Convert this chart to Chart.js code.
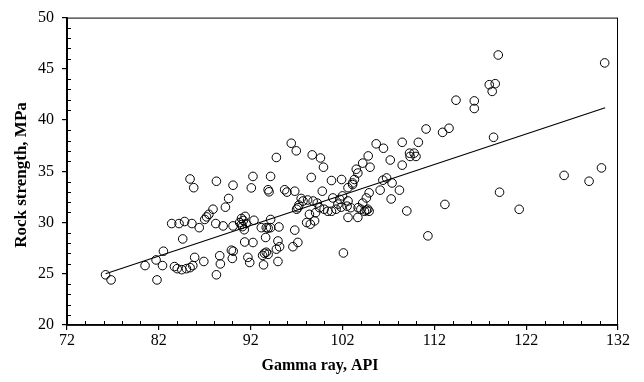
<!DOCTYPE html>
<html>
<head>
<meta charset="utf-8">
<script src="https://cdn.jsdelivr.net/npm/chart.js@4"></script>
<style>
  body { margin: 0; background: #fff; }
  #wrap { width: 644px; height: 382px; }
</style>
</head>
<body>
<div id="wrap"><canvas id="myChart"></canvas></div>
<script>
// gamma ray (API) vs rock strength (MPa)
const gammaRay = [
  76.2, 76.8, 80.5, 81.7, 81.8, 82.4, 82.5, 83.4, 83.7, 84.0,
  84.2, 84.6, 84.8, 84.5, 85.0, 85.4, 85.7, 85.9, 85.4, 85.8,
  85.6, 86.4, 86.9,
  87.0, 87.2, 87.45, 87.9, 88.2, 88.27, 88.63, 88.7, 88.27, 89.0,
  89.25, 89.6, 89.9, 90.1, 90.0, 90.08, 90.08, 90.8, 91.0, 91.1,
  91.2, 91.3, 91.4, 91.0, 91.5, 91.35, 92.25, 91.7, 91.9, 92.25,
  92.07, 92.36, 93.16, 93.7, 93.9, 94.17, 94.17, 93.63, 93.3, 93.5,
  93.7, 93.9, 93.4, 94.17, 93.9, 94.0, 94.8, 94.97, 94.97, 94.8,
  95.15, 95.08, 95.7, 95.95, 96.42, 96.97, 96.8, 96.8, 96.6, 97.14,
  97.0,
  97.14, 97.25, 97.7, 98.2, 98.8, 99.25, 98.4, 99.07, 98.1, 98.5,
  98.96, 98.7, 99.6, 99.93, 98.6, 100.8, 101.9, 99.8, 102.1, 97.5,
  99.5, 100.0, 100.4, 100.8, 101.3, 101.86, 102.5, 102.9, 100.95, 101.7,
  101.5, 102.6, 103.1, 102.0, 102.6, 102.6, 103.67,
  103.5, 103.67, 103.3, 103.1, 104.2, 104.8, 105.0, 104.9, 104.6, 104.2,
  103.7, 104.0, 104.4, 104.6, 104.75, 104.9, 105.67, 106.46, 107.2, 106.4,
  106.8, 107.4, 106.1, 107.3, 108.2, 109.0, 108.5, 110.26, 109.3, 109.8,
  109.36, 110.0, 108.5, 111.3, 111.1,
  112.9, 113.6, 114.36, 116.35, 116.35, 117.98, 118.63, 118.3, 118.96, 118.45,
  113.15, 119.1, 121.24, 126.13, 128.85, 130.2, 130.55
];
const rockStrength = [
  24.9, 24.4, 25.8, 26.35, 24.4, 25.8, 27.2, 29.9, 25.7, 25.5,
  29.9, 28.4, 30.1, 25.4, 25.5, 25.6, 25.8, 26.6, 34.25, 33.4,
  29.9, 29.5, 26.2,
  30.3, 30.55, 30.8, 31.3, 29.9, 34.03, 26.76, 25.96, 24.9, 29.67,
  31.5, 32.35, 27.3, 27.2, 26.5, 33.64, 29.67, 30.0, 30.4, 29.6,
  30.2, 29.3, 30.6, 29.8, 29.9, 28.1, 28.05, 26.6, 26.1, 34.5,
  33.38, 30.22, 29.5, 29.5, 29.45, 29.5, 30.3, 28.54, 26.8, 27.0,
  27.1, 26.9, 25.87, 34.5, 33.2, 33.0, 36.35, 28.2, 26.2, 27.4,
  27.64, 29.57, 33.2, 32.97, 37.74, 37.0, 33.06, 29.26, 27.64, 28.06,
  31.3,
  31.45, 31.7, 32.1, 32.2, 32.1, 31.9, 30.8, 30.96, 30.0, 29.84,
  30.16, 36.6, 36.3, 35.4, 34.4, 34.1, 34.2, 33.06, 27.03, 32.35,
  31.45, 31.3, 31.1, 31.1, 31.3, 31.5, 31.6, 31.45, 32.4, 32.26,
  31.8, 33.4, 33.7, 32.6, 32.1, 30.5, 30.5,
  35.2, 34.83, 34.2, 33.86, 35.8, 36.5, 35.4, 32.9, 32.4, 31.9,
  31.45, 31.3, 31.1, 31.2, 31.3, 31.1, 37.68, 37.25, 36.1, 34.13,
  34.35, 33.86, 33.16, 32.3, 33.16, 31.13, 37.83, 37.83, 36.77, 36.77,
  36.45, 36.45, 35.6, 28.7, 39.13,
  38.8, 39.2, 41.94, 41.87, 41.13, 43.45, 43.55, 42.8, 46.35, 38.32,
  31.77, 32.96, 31.29, 34.6, 34.03, 35.33, 45.58
];

// linear fit line endpoints
const trendX = [76.2, 130.6];
const trendY = [25.0, 41.2];

const xTicks = [72, 82, 92, 102, 112, 122, 132];
const yTicks = [20, 25, 30, 35, 40, 45, 50];

const points = gammaRay.map((g, i) => ({ x: g, y: rockStrength[i] }));
const trend = trendX.map((t, i) => ({ x: t, y: trendY[i] }));

const serif = "'Liberation Serif', 'Times New Roman', serif";

// box around the plot, minor ticks pointing in, axis titles
const boxPlugin = {
  id: "boxPlugin",
  afterDraw(chart) {
    const c = chart.ctx;
    const a = chart.chartArea;
    const xs = chart.scales.x;
    const ys = chart.scales.y;
    c.save();
    c.setLineDash([]);
    c.globalAlpha = 1;
    c.globalCompositeOperation = "source-over";
    c.strokeStyle = "#000";
    c.lineWidth = 1;
    c.strokeRect(a.left + 0.5, a.top + 0.5, a.right - a.left - 1, a.bottom - a.top - 1);
    c.lineWidth = 1.6;
    c.beginPath();
    c.moveTo(a.left, a.top);
    c.lineTo(a.left, a.bottom);
    c.lineTo(a.right, a.bottom);
    c.stroke();

    c.lineWidth = 1;
    c.beginPath();
    for (let v = 74; v < 132; v += 2) {
      if ((v - 72) % 10 === 0) continue;
      const px = Math.round(xs.getPixelForValue(v)) + 0.5;
      c.moveTo(px, a.bottom);
      c.lineTo(px, a.bottom - 4);
    }
    for (let v = 21; v < 50; v += 1) {
      if (v % 5 === 0) continue;
      const py = Math.round(ys.getPixelForValue(v)) + 0.5;
      c.moveTo(a.left, py);
      c.lineTo(a.left + 4, py);
    }
    c.stroke();

    c.fillStyle = "#000";
    c.textAlign = "center";
    c.textBaseline = "middle";
    c.font = "bold 16px " + serif;
    c.fillText("Gamma ray, API", 320, 366);
    c.translate(22, 175);
    c.rotate(-Math.PI / 2);
    c.font = "bold 17px " + serif;
    c.fillText("Rock strength, MPa", 0, 0);
    c.restore();
  }
};

new Chart(document.getElementById("myChart"), {
  type: "scatter",
  data: {
    datasets: [
      {
        label: "Data",
        data: points,
        pointStyle: "circle",
        pointRadius: 4.3,
        pointBorderWidth: 1,
        pointBorderColor: "#000",
        pointBackgroundColor: "rgba(0,0,0,0)",
        showLine: false
      },
      {
        label: "Fit",
        data: trend,
        type: "line",
        borderColor: "#000",
        borderWidth: 1.2,
        pointRadius: 0,
        fill: false
      }
    ]
  },
  options: {
    responsive: true,
    maintainAspectRatio: false,
    animation: false,
    layout: { padding: { left: 0, right: 26, top: 2, bottom: 0 } },
    plugins: {
      legend: { display: false },
      tooltip: { enabled: false }
    },
    scales: {
      x: {
        type: "linear",
        min: 72,
        max: 132,
        afterBuildTicks: s => { s.ticks = xTicks.map(v => ({ value: v })); },
        afterFit: s => { s.height = 57; },
        grid: { drawOnChartArea: false, drawTicks: true, tickLength: 5, color: "#000", lineWidth: 1.2 },
        border: { display: true, color: "#000", width: 1.6 },
        ticks: { color: "#000", padding: 1, font: { family: serif, size: 16 } }
      },
      y: {
        type: "linear",
        min: 20,
        max: 50,
        afterBuildTicks: s => { s.ticks = yTicks.map(v => ({ value: v })); },
        afterFit: s => { s.width = 67; },
        grid: { drawOnChartArea: false, drawTicks: true, tickLength: 5, color: "#000", lineWidth: 1.2 },
        border: { display: true, color: "#000", width: 1.6 },
        ticks: { color: "#000", padding: 8, font: { family: serif, size: 16 } }
      }
    }
  },
  plugins: [boxPlugin]
});
</script>
</body>
</html>
